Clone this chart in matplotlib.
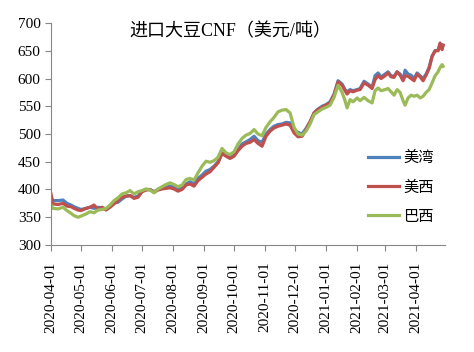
import matplotlib
matplotlib.use("Agg")
import numpy as np
import pandas as pd
import matplotlib.pyplot as plt
import matplotlib.dates as mdates

plt.rcParams['font.family'] = ['Liberation Serif', 'Noto Sans CJK SC']

dates = ["2020-04-01", "2020-04-03", "2020-04-08", "2020-04-13", "2020-04-17", "2020-04-21",
         "2020-04-24", "2020-04-28", "2020-05-01", "2020-05-06", "2020-05-10", "2020-05-14",
         "2020-05-18", "2020-05-22", "2020-05-26", "2020-05-30", "2020-06-03", "2020-06-07",
         "2020-06-11", "2020-06-15", "2020-06-19", "2020-06-23", "2020-06-27", "2020-07-01",
         "2020-07-05", "2020-07-09", "2020-07-13", "2020-07-17", "2020-07-21", "2020-07-25",
         "2020-07-29", "2020-08-02", "2020-08-06", "2020-08-10", "2020-08-14", "2020-08-18",
         "2020-08-22", "2020-08-26", "2020-08-30", "2020-09-03", "2020-09-07", "2020-09-11",
         "2020-09-15", "2020-09-19", "2020-09-23", "2020-09-27", "2020-10-01", "2020-10-05",
         "2020-10-09", "2020-10-13", "2020-10-17", "2020-10-21", "2020-10-25", "2020-10-29",
         "2020-11-02", "2020-11-06", "2020-11-10", "2020-11-14", "2020-11-18", "2020-11-22",
         "2020-11-26", "2020-11-30", "2020-12-04", "2020-12-08", "2020-12-12", "2020-12-16",
         "2020-12-20", "2020-12-24", "2020-12-28", "2021-01-01", "2021-01-05", "2021-01-09",
         "2021-01-13", "2021-01-17", "2021-01-20", "2021-01-22", "2021-01-25", "2021-01-28",
         "2021-02-01", "2021-02-04", "2021-02-08", "2021-02-12", "2021-02-16", "2021-02-19",
         "2021-02-22", "2021-02-25", "2021-03-01", "2021-03-04", "2021-03-07", "2021-03-10",
         "2021-03-13", "2021-03-16", "2021-03-19", "2021-03-21", "2021-03-24", "2021-03-27",
         "2021-03-30", "2021-04-02", "2021-04-05", "2021-04-08", "2021-04-11", "2021-04-14",
         "2021-04-17", "2021-04-20", "2021-04-23", "2021-04-25", "2021-04-27", "2021-04-28"]

gulf = [385, 380, 380, 381, 375, 372, 369, 366, 364, 366, 368, 366, 368, 367, 365, 370,
        376, 377, 383, 388, 389, 386, 388, 397, 400, 400, 396, 400, 402, 405, 406, 404,
        400, 402, 410, 414, 410, 420, 426, 433, 436, 442, 450, 466, 461, 457, 462, 472,
        482, 486, 490, 496, 488, 485, 500, 508, 514, 517, 518, 521, 520, 507, 503, 500,
        510, 522, 538, 545, 550, 553, 558, 572, 596, 590, 580, 576, 580, 578, 580, 582,
        595, 590, 584, 605, 610, 603, 608, 612, 605, 604, 612, 608, 598, 615, 608, 606,
        600, 610, 605, 600, 608, 620, 640, 650, 651, 662, 655, 660]

west = [392, 374, 373, 375, 370, 369, 366, 363, 362, 366, 368, 372, 364, 368, 363, 368,
        374, 380, 386, 388, 389, 384, 386, 396, 399, 400, 395, 399, 401, 402, 403, 401,
        397, 400, 408, 410, 406, 416, 422, 428, 432, 440, 448, 465, 460, 456, 460, 470,
        478, 483, 485, 490, 483, 478, 496, 505, 511, 514, 516, 518, 516, 502, 495, 496,
        508, 522, 538, 544, 548, 552, 556, 570, 594, 588, 578, 572, 578, 576, 579, 580,
        592, 588, 582, 598, 605, 600, 605, 610, 603, 602, 612, 606, 596, 605, 604, 600,
        596, 608, 603, 596, 606, 618, 640, 650, 650, 664, 652, 660]

brazil = [372, 366, 365, 368, 362, 357, 353, 350, 352, 356, 360, 358, 363, 364, 366, 372,
          380, 385, 392, 394, 398, 392, 396, 398, 401, 399, 394, 401, 405, 409, 412, 409,
          405, 408, 418, 420, 417, 430, 442, 451, 449, 452, 458, 474, 466, 463, 468, 482,
          492, 498, 501, 508, 500, 497, 512, 522, 530, 540, 543, 544, 538, 512, 500, 498,
          505, 518, 535, 540, 545, 548, 552, 566, 588, 575, 560, 547, 562, 558, 565, 560,
          566, 560, 556, 578, 583, 578, 580, 582, 576, 570, 580, 575, 560, 552, 565, 570,
          568, 570, 565, 568, 575, 580, 592, 605, 612, 620, 625, 622]

series = [("美湾", gulf, "#4F81BD"), ("美西", west, "#C0504D"), ("巴西", brazil, "#9BBB59")]

x = pd.to_datetime(dates)

fig = plt.figure(figsize=(4.74, 3.52), dpi=100)
ax = fig.add_axes([0.1076, 0.304, 0.8314, 0.6306])

for name, vals, col in series:
    ax.plot(x, vals, color=col, lw=2.3, label=name)

ax.set_ylim(300, 700)
ax.set_yticks(np.arange(300, 701, 50))
ax.set_xlim(pd.Timestamp("2020-04-01"), pd.Timestamp("2021-04-30"))
ax.set_xticks(pd.date_range("2020-04-01", "2021-04-01", freq="MS"))
ax.xaxis.set_major_formatter(mdates.DateFormatter("%Y-%m-%d"))
plt.setp(ax.get_xticklabels(), rotation=90)

for s in ["top", "right"]:
    ax.spines[s].set_visible(False)
for s in ["left", "bottom"]:
    ax.spines[s].set_color("#868686")
ax.tick_params(colors="#868686", labelcolor="black", labelsize=11, length=4, direction="out")
ax.tick_params(axis="x", pad=8)

ax.text(0.454, 0.962, "进口大豆CNF（美元/吨）", transform=ax.transAxes,
        ha="center", va="center", fontsize=13)

leg = ax.legend(frameon=False, loc="center left", bbox_to_anchor=(0.77, 0.26),
                labelspacing=1.0, handlelength=2.0, handletextpad=0.3, fontsize=11)

plt.savefig("out.png", dpi=100)
